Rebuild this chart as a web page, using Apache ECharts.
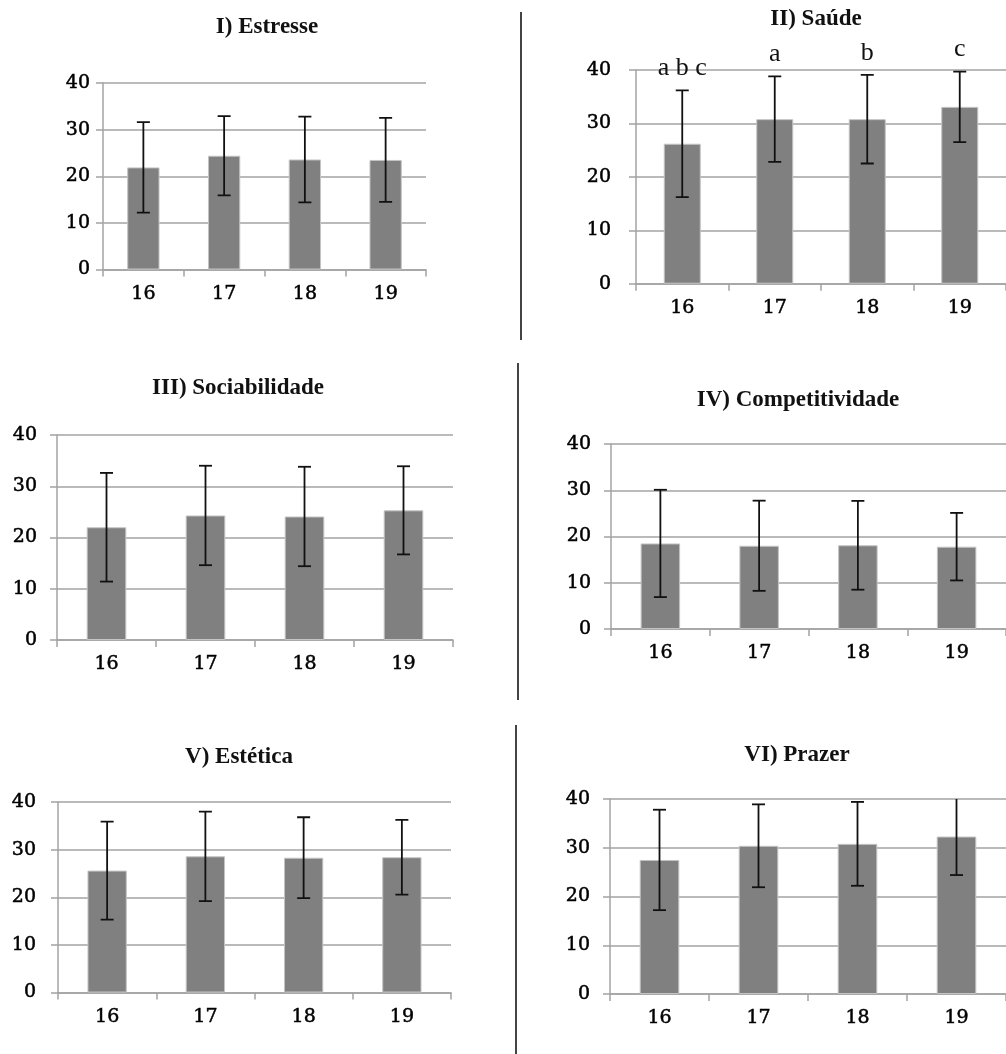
<!DOCTYPE html>
<html>
<head>
<meta charset="utf-8">
<script src="https://cdn.jsdelivr.net/npm/echarts@6/dist/echarts.min.js"></script>
<style>
html,body{margin:0;padding:0;background:#fff;}
#main{width:1006px;height:1054px;}
</style>
</head>
<body>
<div id="main"></div>
<script>
// ---- data ----
const categories = ['16', '17', '18', '19'];
const titles = ['I) Estresse', 'II) Saúde', 'III) Sociabilidade', 'IV) Competitividade', 'V) Estética', 'VI) Prazer'];
const yTicks = [0, 10, 20, 30, 40];

const estresseMean = [21.9, 24.4, 23.6, 23.5];
const estresseSd   = [9.7, 8.5, 9.2, 9.0];
const saudeMean    = [26.2, 30.8, 30.8, 33.1];
const saudeSd      = [10.0, 8.0, 8.3, 6.6];
const saudeLetters = ['a b c', 'a', 'b', 'c'];
const sociabMean   = [22.0, 24.3, 24.1, 25.3];
const sociabSd     = [10.6, 9.7, 9.7, 8.6];
const competMean   = [18.5, 18.0, 18.1, 17.8];
const competSd     = [11.6, 9.75, 9.6, 7.3];
const esteticaMean = [25.6, 28.6, 28.3, 28.4];
const esteticaSd   = [10.3, 9.4, 8.5, 7.85];
const prazerMean   = [27.5, 30.4, 30.8, 32.3];
const prazerSd     = [10.3, 8.5, 8.6, 7.9];

const means = [estresseMean, saudeMean, sociabMean, competMean, esteticaMean, prazerMean];
const sds   = [estresseSd, saudeSd, sociabSd, competSd, esteticaSd, prazerSd];

// ---- layout (pixels) ----
const grids = [
  {left: 103, top: 83,  width: 323, height: 186.5},
  {left: 636, top: 70,  width: 380, height: 213.7},
  {left: 57,  top: 435, width: 396, height: 205},
  {left: 611, top: 444, width: 405, height: 185},
  {left: 58,  top: 802, width: 393, height: 190.5},
  {left: 610, top: 799, width: 405, height: 195}
];
const titlePos = [[267, 27], [816, 19], [238, 388], [798, 400], [239, 757], [797, 755]];
const yLabelMargin = [13, 25, 20, 20, 22, 20];

const tickFont = {fontFamily: 'DejaVu Serif', fontSize: 19, color: '#000', textBorderColor: '#000', textBorderWidth: 0.5};
const gray = '#a3a3a3';

const option = {
  animation: false,
  backgroundColor: '#fff',
  title: titles.map((t, i) => ({
    text: t,
    left: titlePos[i][0],
    top: titlePos[i][1],
    textAlign: 'center',
    textVerticalAlign: 'middle',
    padding: 0,
    textStyle: {fontFamily: 'Liberation Serif', fontWeight: 'bold', fontSize: 23, color: '#111'}
  })),
  grid: grids.map(g => Object.assign({containLabel: false}, g)),
  xAxis: grids.map((g, i) => ({
    type: 'category',
    gridIndex: i,
    data: categories,
    axisLine: {lineStyle: {color: gray, width: 1.5}},
    axisTick: {show: true, length: 7, lineStyle: {color: gray, width: 1.5}},
    axisLabel: Object.assign({margin: 15}, tickFont),
    splitLine: {show: false}
  })),
  yAxis: grids.map((g, i) => ({
    type: 'value',
    gridIndex: i,
    min: 0, max: 40, interval: 10,
    axisLine: {show: true, lineStyle: {color: gray, width: 1.5}},
    axisTick: {show: true, length: 7, lineStyle: {color: gray, width: 1.5}},
    axisLabel: Object.assign({margin: yLabelMargin[i]}, tickFont),
    splitLine: {show: true, lineStyle: {color: gray, width: 1.5}}
  })),
  series: []
};

means.forEach((m, i) => {
  option.series.push({
    type: 'bar',
    xAxisIndex: i, yAxisIndex: i,
    data: m,
    barWidth: '40%',
    itemStyle: {color: '#808080', borderColor: '#c4c4c4', borderWidth: 1}
  });
  option.series.push({
    type: 'custom',
    xAxisIndex: i, yAxisIndex: i,
    clip: true,
    data: m.map((v, k) => [k, v - sds[i][k], v + sds[i][k]]),
    renderItem: function (params, api) {
      const lo = api.coord([api.value(0), api.value(1)]);
      const hi = api.coord([api.value(0), api.value(2)]);
      const hw = 6.5;
      const st = {stroke: '#111', lineWidth: 1.8};
      return {
        type: 'group',
        children: [
          {type: 'line', shape: {x1: lo[0], y1: lo[1], x2: hi[0], y2: hi[1]}, style: st},
          {type: 'line', shape: {x1: lo[0] - hw, y1: lo[1], x2: lo[0] + hw, y2: lo[1]}, style: st},
          {type: 'line', shape: {x1: hi[0] - hw, y1: hi[1], x2: hi[0] + hw, y2: hi[1]}, style: st}
        ]
      };
    },
    z: 5
  });
});

// significance letters for Saúde
option.series.push({
  type: 'custom',
  xAxisIndex: 1, yAxisIndex: 1,
  clip: false,
  data: saudeMean.map((v, k) => [k, v + saudeSd[k]]),
  renderItem: function (params, api) {
    const p = api.coord([api.value(0), api.value(1)]);
    const idx = params.dataIndex;
    return {
      type: 'text',
      x: p[0], y: p[1] - 22,
      style: {
        text: saudeLetters[idx],
        font: '26px "Liberation Serif"',
        fill: '#111',
        align: 'center',
        verticalAlign: 'middle'
      }
    };
  },
  z: 6
});

option.graphic = [
  {type: 'line', shape: {x1: 521, y1: 12, x2: 521, y2: 340}, style: {stroke: '#444', lineWidth: 2}},
  {type: 'line', shape: {x1: 518, y1: 363, x2: 518, y2: 700}, style: {stroke: '#444', lineWidth: 2}},
  {type: 'line', shape: {x1: 516, y1: 725, x2: 516, y2: 1054}, style: {stroke: '#444', lineWidth: 2}}
];

const chart = echarts.init(document.getElementById('main'), null, {renderer: 'canvas'});
chart.setOption(option);
</script>
</body>
</html>
